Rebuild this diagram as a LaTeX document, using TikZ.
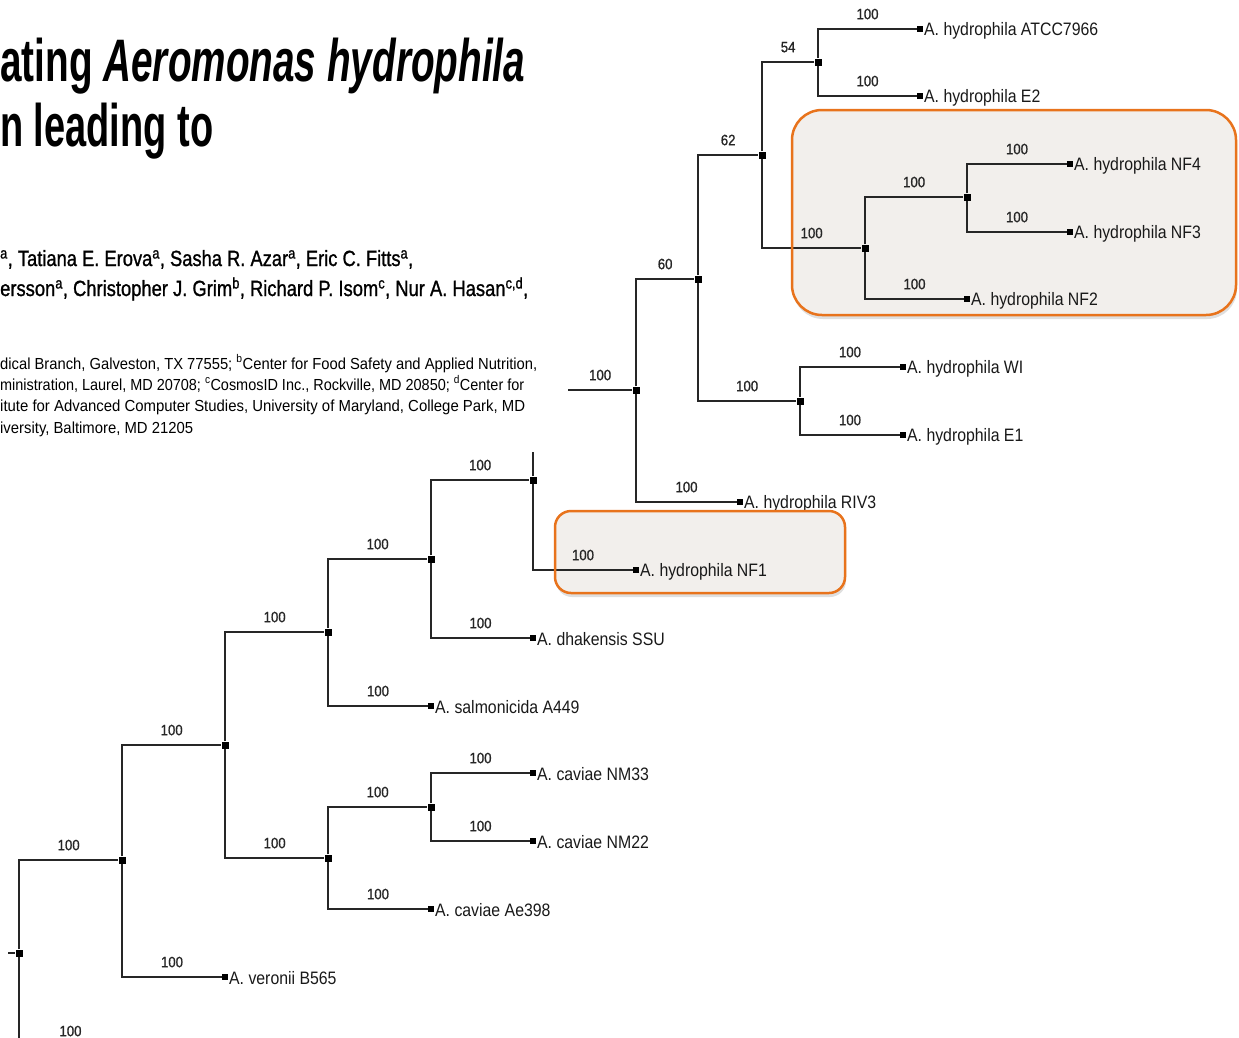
\documentclass[tikz,border=0pt]{standalone}
\usepackage{fontspec}
\setmainfont{Liberation Sans}
\newfontfamily\headfont{Liberation Sans}
\newfontfamily\authfont[FakeBold=1.2]{Liberation Sans}
\newfontfamily\treefont[FakeStretch=0.88]{Liberation Sans}
\newfontfamily\bootfont[FakeStretch=0.88, FakeBold=0.8]{Liberation Sans}
\usetikzlibrary{shadows}
\definecolor{boxorange}{HTML}{E8731C}
\definecolor{boxfill}{HTML}{F2EFEC}
\newcommand{\fitline}[2]{\resizebox{#1}{\height}{#2}}

\begin{document}
\begin{tikzpicture}[x=1pt, y=-1pt,
    inode/.style={rectangle, fill=black, minimum size=7pt, inner sep=0pt},
    leaf/.style={rectangle, fill=black, minimum size=5.5pt, inner sep=0pt},
    taxon/.style={font=\treefont\fontsize{18}{18}\selectfont, text=black!90, inner sep=1pt, yshift=-1.5pt},
    boot/.style={font=\bootfont\fontsize{15}{15}\selectfont, text=black!85, inner sep=0pt, above=9pt},
    branch/.style={draw=black!85, line width=1.3pt},
    head/.style={anchor=base west, inner sep=0pt}]
    \useasboundingbox (0,0) rectangle (1239,1037);
    \clip (0,0) rectangle (1239,1037);

    % paper header behind the tree
    \node[head] (title1) at (0,81) {\fitline{525pt}{\headfont\bfseries\fontsize{60}{60}\selectfont ating \textit{Aeromonas hydrophila}}};
    \node[head] (title2) at (0,146) {\fitline{213pt}{\headfont\bfseries\fontsize{60}{60}\selectfont n leading to}};
    \node[head] (auth1) at (0,266) {\fitline{413pt}{\authfont\fontsize{22}{22}\selectfont \textsuperscript{a}, Tatiana E. Erova\textsuperscript{a}, Sasha R. Azar\textsuperscript{a}, Eric C. Fitts\textsuperscript{a},}};
    \node[head] (auth2) at (0,296) {\fitline{528pt}{\authfont\fontsize{22}{22}\selectfont ersson\textsuperscript{a}, Christopher J. Grim\textsuperscript{b}, Richard P. Isom\textsuperscript{c}, Nur A. Hasan\textsuperscript{c,d},}};
    \node[head] (aff1) at (0,369) {\fitline{537pt}{\headfont\fontsize{16}{16}\selectfont dical Branch, Galveston, TX 77555; \textsuperscript{b}Center for Food Safety and Applied Nutrition,}};
    \node[head] (aff2) at (0,390) {\fitline{524pt}{\headfont\fontsize{16}{16}\selectfont ministration, Laurel, MD 20708; \textsuperscript{c}CosmosID Inc., Rockville, MD 20850; \textsuperscript{d}Center for}};
    \node[head] (aff3) at (0,411) {\fitline{525pt}{\headfont\fontsize{16}{16}\selectfont itute for Advanced Computer Studies, University of Maryland, College Park, MD}};
    \node[head] (aff4) at (0,433) {\fitline{193pt}{\headfont\fontsize{16}{16}\selectfont iversity, Baltimore, MD 21205}};

    % highlight boxes, fill only
    \fill[boxfill, rounded corners=30pt, drop shadow={shadow xshift=1pt, shadow yshift=-4pt, opacity=0.25}] (792,110) rectangle (1236,315);
    \fill[boxfill, rounded corners=16pt, drop shadow={shadow xshift=1pt, shadow yshift=-4pt, opacity=0.25}] (555,511) rectangle (845,593);

    % hydrophila clade
    \coordinate (h0stem) at (568,390);
    \node[inode] (h0) at (636,390) {};
    \node[inode] (h60) at (698,279) {};
    \node[inode] (h62) at (762,155) {};
    \node[inode] (h54) at (818,62) {};
    \node[leaf, label={[taxon]right:A. hydrophila ATCC7966}] (atcc) at (920,29) {};
    \node[leaf, label={[taxon]right:A. hydrophila E2}] (e2) at (920,96) {};
    \node[inode] (nf) at (865,248) {};
    \node[inode] (nf34) at (967,197) {};
    \node[leaf, label={[taxon]right:A. hydrophila NF4}] (nf4) at (1070,164) {};
    \node[leaf, label={[taxon]right:A. hydrophila NF3}] (nf3) at (1070,232) {};
    \node[leaf, label={[taxon]right:A. hydrophila NF2}] (nf2) at (967,299) {};
    \node[inode] (we) at (800,401) {};
    \node[leaf, label={[taxon]right:A. hydrophila WI}] (wi) at (903,367) {};
    \node[leaf, label={[taxon]right:A. hydrophila E1}] (e1) at (903,435) {};
    \node[leaf, label={[taxon]right:A. hydrophila RIV3}] (riv3) at (740,502) {};

    \draw[branch] (h0stem) -- node[boot, midway] {100} (h0);
    \draw[branch] (h0) |- node[boot, pos=0.75] {60} (h60);
    \draw[branch] (h60) |- node[boot, pos=0.75] {62} (h62);
    \draw[branch] (h62) |- node[boot, pos=0.75] {54} (h54);
    \draw[branch] (h54) |- node[boot, pos=0.75] {100} (atcc);
    \draw[branch] (h54) |- node[boot, pos=0.75] {100} (e2);
    \draw[branch] (h62) |- node[boot, pos=0.75] {100} (nf);
    \draw[branch] (nf) |- node[boot, pos=0.75] {100} (nf34);
    \draw[branch] (nf34) |- node[boot, pos=0.75] {100} (nf4);
    \draw[branch] (nf34) |- node[boot, pos=0.75] {100} (nf3);
    \draw[branch] (nf) |- node[boot, pos=0.75] {100} (nf2);
    \draw[branch] (h60) |- node[boot, pos=0.75] {100} (we);
    \draw[branch] (we) |- node[boot, pos=0.75] {100} (wi);
    \draw[branch] (we) |- node[boot, pos=0.75] {100} (e1);
    \draw[branch] (h0) |- node[boot, pos=0.75] {100} (riv3);

    % rest of the genus
    \coordinate (dktop) at (533,452);
    \node[inode] (dk) at (533,480) {};
    \node[leaf, label={[taxon]right:A. hydrophila NF1}] (nf1) at (636,570) {};
    \node[inode] (hd) at (431,559) {};
    \node[leaf, label={[taxon]right:A. dhakensis SSU}] (ssu) at (533,638) {};
    \node[inode] (hs) at (328,632) {};
    \node[leaf, label={[taxon]right:A. salmonicida A449}] (a449) at (431,706) {};
    \node[inode] (core) at (225,745) {};
    \node[inode] (cav) at (328,858) {};
    \node[inode] (nm) at (431,807) {};
    \node[leaf, label={[taxon]right:A. caviae NM33}] (nm33) at (533,773) {};
    \node[leaf, label={[taxon]right:A. caviae NM22}] (nm22) at (533,841) {};
    \node[leaf, label={[taxon]right:A. caviae Ae398}] (ae398) at (431,909) {};
    \node[inode] (ver) at (122,860) {};
    \node[leaf, label={[taxon]right:A. veronii B565}] (b565) at (225,977) {};
    \coordinate (rootstem) at (8,953);
    \node[inode] (root) at (19,953) {};
    \coordinate (outgrp) at (122,1046);

    \draw[branch] (dk) -- (dktop);
    \draw[branch] (dk) |- node[boot, pos=0.75] {100} (nf1);
    \draw[branch] (hd) |- node[boot, pos=0.75] {100} (dk);
    \draw[branch] (hd) |- node[boot, pos=0.75] {100} (ssu);
    \draw[branch] (hs) |- node[boot, pos=0.75] {100} (hd);
    \draw[branch] (hs) |- node[boot, pos=0.75] {100} (a449);
    \draw[branch] (core) |- node[boot, pos=0.75] {100} (hs);
    \draw[branch] (core) |- node[boot, pos=0.75] {100} (cav);
    \draw[branch] (cav) |- node[boot, pos=0.75] {100} (nm);
    \draw[branch] (nm) |- node[boot, pos=0.75] {100} (nm33);
    \draw[branch] (nm) |- node[boot, pos=0.75] {100} (nm22);
    \draw[branch] (cav) |- node[boot, pos=0.75] {100} (ae398);
    \draw[branch] (ver) |- node[boot, pos=0.75] {100} (core);
    \draw[branch] (ver) |- node[boot, pos=0.75] {100} (b565);
    \draw[branch] (root) |- node[boot, pos=0.75] {100} (ver);
    \draw[branch] (root) |- node[boot, pos=0.75] {100} (outgrp);
    \draw[branch] (rootstem) -- (root);

    % highlight borders on top
    \draw[boxorange, line width=2.5pt, rounded corners=30pt] (792,110) rectangle (1236,315);
    \draw[boxorange, line width=2.5pt, rounded corners=16pt] (555,511) rectangle (845,593);
\end{tikzpicture}
\end{document}
